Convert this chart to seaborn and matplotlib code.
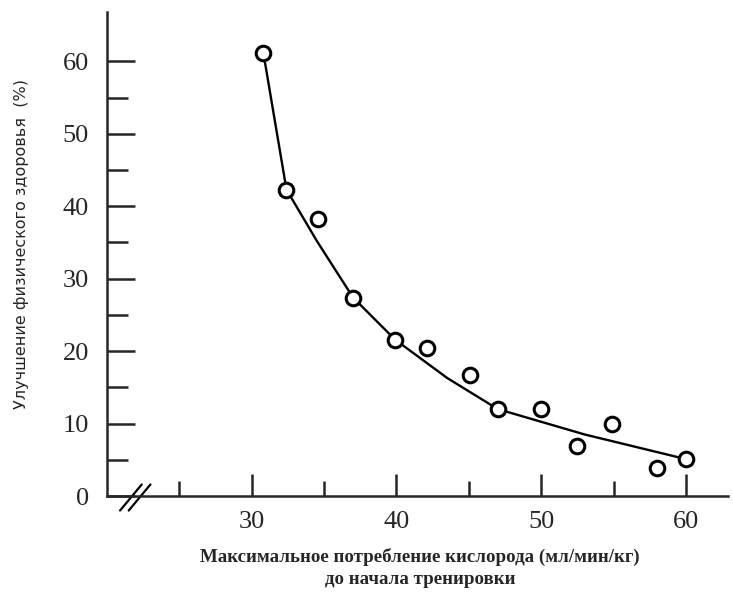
import numpy as np
import pandas as pd
import matplotlib
matplotlib.use('Agg')
import matplotlib.pyplot as plt
import seaborn as sns

# measured points (VO2max before training vs. fitness gain)
vo2_max = [30.8, 32.4, 34.6, 37.0, 39.9, 42.1, 45.1, 47.0, 50.0, 52.5, 54.9, 58.0, 60.0]
improvement = [61.2, 42.3, 38.3, 27.4, 21.6, 20.5, 16.7, 12.0, 12.0, 6.9, 9.9, 3.9, 5.1]

# fitted curve
curve_x = [30.8, 32.4, 34.5, 37.0, 39.9, 43.5, 47.0, 53.0, 60.0]
curve_y = [61.2, 42.3, 35.2, 27.4, 21.6, 16.3, 12.0, 8.5, 5.1]

x_major = [30, 40, 50, 60]
x_minor = [25, 35, 45, 55]
y_major = [0, 10, 20, 30, 40, 50, 60]
y_minor = [5, 15, 25, 35, 45, 55]

xlabel = 'Максимальное потребление кислорода (мл/мин/кг)\nдо начала тренировки'
ylabel = 'Улучшение физического здоровья  (%)'

points = pd.DataFrame({'x': vo2_max, 'y': improvement})
curve = pd.DataFrame({'x': curve_x, 'y': curve_y})

sns.set_style('ticks')
plt.rcParams['font.family'] = ['Liberation Serif', 'DejaVu Serif']

fig = plt.figure(figsize=(7.33, 6.02), dpi=100)
ax = fig.add_axes([0.146, 0.176, 0.847, 0.804])

sns.lineplot(data=curve, x='x', y='y', ax=ax, color='black', linewidth=1.7,
             sort=False, estimator=None)
sns.scatterplot(data=points, x='x', y='y', ax=ax, s=110, facecolor='white',
                edgecolor='black', linewidth=2.2, zorder=3)

ax.set_xlim(20, 62.9)
ax.set_ylim(0, 66.8)
ax.set_xticks(x_major)
ax.set_xticks(x_minor, minor=True)
ax.set_yticks(y_major)
ax.set_yticks(y_minor, minor=True)

ax.tick_params(axis='both', which='both', direction='in', width=1.8, labelsize=19)
ax.tick_params(axis='y', which='major', length=20, pad=13)
ax.tick_params(axis='y', which='minor', length=15)
ax.tick_params(axis='x', which='major', length=16, pad=11)
ax.tick_params(axis='x', which='minor', length=11)

sns.despine(ax=ax)
for side in ['left', 'bottom']:
    ax.spines[side].set_linewidth(1.8)

ax.set_xlabel('')
ax.set_ylabel('')

# axis break mark
for dx in [0, 0.6]:
    ax.plot([20.9 + dx, 22.4 + dx], [-2.0, 1.6], color='black', lw=1.6,
            clip_on=False)

fig.text(0.573, 0.024, xlabel, ha='center', va='bottom', fontsize=13.6,
         fontweight='bold', linespacing=1.35)
fig.text(0.030, 0.595, ylabel, ha='center', va='center', rotation=90,
         fontsize=11.5, family=['DejaVu Sans'])

fig.savefig('out.png', dpi=100)
